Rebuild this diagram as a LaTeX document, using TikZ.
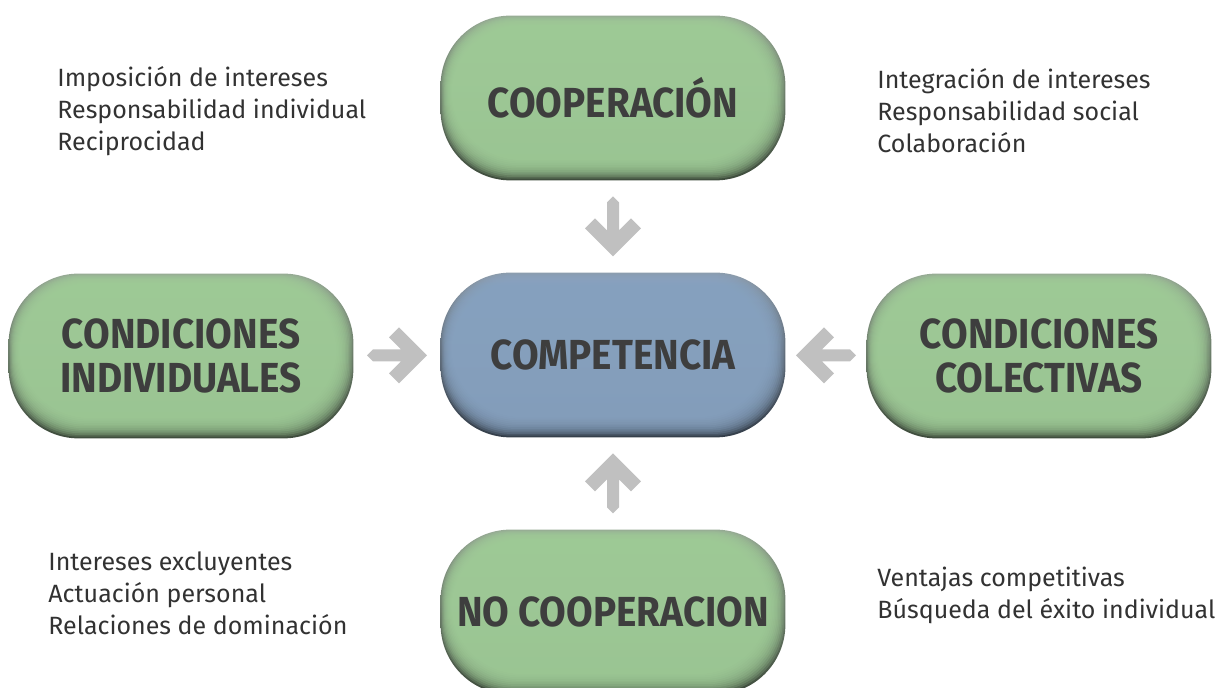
\documentclass[tikz,border=0pt]{standalone}
\usepackage{fontspec}
\setmainfont{Fira Sans}
\newfontfamily\pillfont[FakeStretch=0.92]{Fira Sans}
\usetikzlibrary{calc,backgrounds}

\definecolor{greenface}{RGB}{161,205,153}
\definecolor{greenedge}{RGB}{62,76,60}
\definecolor{greentop}{RGB}{150,170,148}
\definecolor{blueface}{RGB}{137,164,194}
\definecolor{blueedge}{RGB}{52,62,74}
\definecolor{bluetop}{RGB}{140,156,172}
\definecolor{arrowgray}{RGB}{192,192,192}
\definecolor{pilltext}{RGB}{62,62,62}
\definecolor{notetext}{RGB}{50,50,50}

% bevelled pill behind a node
\newcommand\bevel[4]{%
  \shade[top color=#3,bottom color=#2,rounded corners=35pt] (#1.north west) rectangle (#1.south east);
  \foreach \k in {1,...,12}
    \fill[#4,opacity=0.22,rounded corners=35pt] ($(#1.north west)+(0.9*\k,0.8*\k)$) rectangle ($(#1.south east)+(-1.4*\k,-1.7*\k)$);
}

\begin{document}
\begin{tikzpicture}[x=0.5pt,y=-0.5pt,
  pill/.style={minimum width=172pt,minimum height=82pt,inner sep=0pt,align=center,
    font=\pillfont\bfseries\fontsize{21}{22}\selectfont,text=pilltext},
  notes/.style={anchor=west,align=left,inner sep=0pt,
    font=\fontsize{12.5}{16}\selectfont,text=notetext},
  blockarrow/.pic={\fill[arrowgray] (30,0) -- (2,28) -- (-8,18) -- (4,6) -- (-24,6) -- (-30,0)
    -- (-24,-6) -- (4,-6) -- (-8,-18) -- (2,-28) -- cycle;}]
  \useasboundingbox (0,0) rectangle (1223,688);

  \node[pill] (coop) at (613,98) {COOPERACIÓN};
  \node[pill] (comp) at (613,355) {COMPETENCIA};
  \node[pill] (indiv) at (181,356) {CONDICIONES\\INDIVIDUALES};
  \node[pill] (colec) at (1039,356) {CONDICIONES\\COLECTIVAS};
  \node[pill] (nocoop) at (613,612) {NO COOPERACION};

  \begin{scope}[on background layer]
    \bevel{coop}{greenedge}{greentop}{greenface}
    \bevel{comp}{blueedge}{bluetop}{blueface}
    \bevel{indiv}{greenedge}{greentop}{greenface}
    \bevel{colec}{greenedge}{greentop}{greenface}
    \bevel{nocoop}{greenedge}{greentop}{greenface}
  \end{scope}

  \pic[rotate=-90] at ($(coop.south)!.5!(comp.north)$) {blockarrow};
  \pic[rotate=90] at ($(nocoop.north)!.5!(comp.south)$) {blockarrow};
  \pic at ($(indiv.east)!.5!(comp.west)$) {blockarrow};
  \pic[rotate=180] at ($(colec.west)!.5!(comp.east)$) {blockarrow};

  \node[notes] (impo) at (57,111) {Imposición de intereses\\Responsabilidad individual\\Reciprocidad};
  \node[notes] (integ) at (877,111) {Integración de intereses\\Responsabilidad social\\Colaboración};
  \node[notes] (excl) at (48,593) {Intereses excluyentes\\Actuación personal\\Relaciones de dominación};
  \node[notes] (venta) at (877,595) {Ventajas competitivas\\Búsqueda del éxito individual};
\end{tikzpicture}
\end{document}
